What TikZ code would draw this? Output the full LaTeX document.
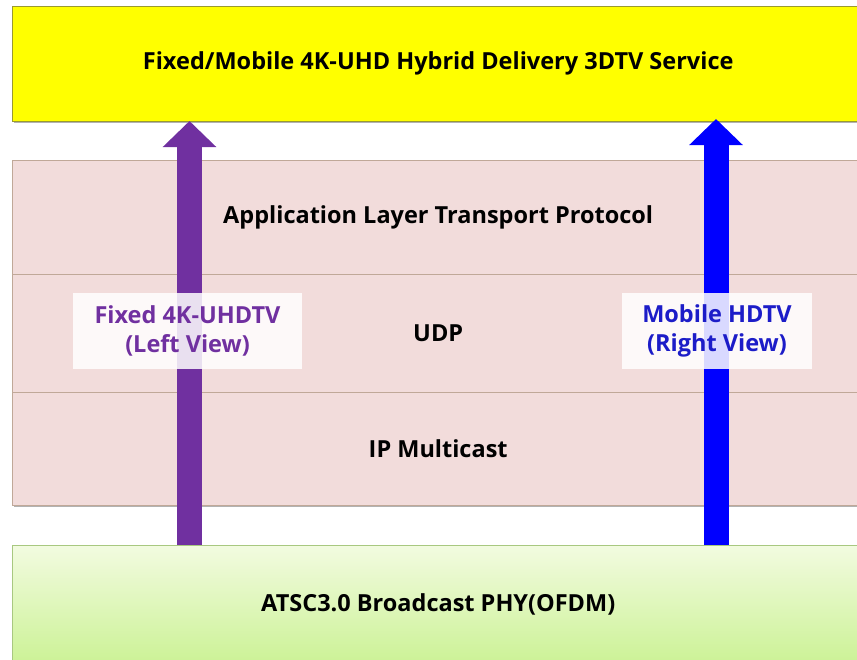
\documentclass[tikz,border=0pt]{standalone}
\usepackage{fontspec}
\setmainfont{Open Sans}
\usetikzlibrary{arrows.meta,shadows}

\definecolor{svcyellow}{HTML}{FFFF00}
\definecolor{svcborder}{HTML}{9A9A30}
\definecolor{layerpink}{HTML}{F2DCDB}
\definecolor{layerborder}{HTML}{C0A898}
\definecolor{phytop}{HTML}{F2FBE0}
\definecolor{phybottom}{HTML}{CCF296}
\definecolor{phyborder}{HTML}{A8C880}
\definecolor{leftview}{HTML}{7030A0}
\definecolor{rightview}{HTML}{0000FF}
\definecolor{righttext}{HTML}{1C1CC8}

\begin{document}
\begin{tikzpicture}[x=1pt,y=-1pt,
    every node/.style={font=\bfseries\fontsize{23.5}{28}\selectfont},
    block/.style={anchor=north west, inner sep=0pt, minimum width=852pt,
      drop shadow={shadow xshift=1.5pt, shadow yshift=-2pt, opacity=0.3, fill=black}},
    layer/.style={block, draw=layerborder, fill=layerpink},
    viewlabel/.style={fill=white, fill opacity=0.85, text opacity=1, inner sep=0pt,
      minimum height=76pt, align=center, font=\bfseries\fontsize{23.5}{29}\selectfont},
    viewarrow/.style={line width=25pt, -{Triangle[width=52pt,length=26pt]}}]

  \useasboundingbox (0,0) rectangle (857,659);

  % service on top
  \node[block, draw=svcborder, fill=svcyellow, minimum height=115pt] (svc) at (12,6)
    {Fixed/Mobile 4K-UHD Hybrid Delivery 3DTV Service};

  % protocol layers
  \node[layer, minimum height=114pt] (alp) at (12,160) {Application Layer Transport Protocol};
  \node[layer, minimum height=118pt] (udp) at (12,274) {UDP};
  \node[layer, minimum height=113pt] (ip) at (12,392) {IP Multicast};

  % physical layer
  \node[block, draw=phyborder, top color=phytop, bottom color=phybottom,
    minimum height=118pt] (phy) at (12,545) {ATSC3.0 Broadcast PHY(OFDM)};

  % the two views
  \coordinate (lbot) at (189.5,545);
  \coordinate (ltop) at (189.5,121);
  \coordinate (rbot) at (716,545);
  \coordinate (rtop) at (716,119);
  \draw[viewarrow, leftview] (lbot) -- (ltop);
  \draw[viewarrow, rightview] (rbot) -- (rtop);

  \node[viewlabel, text=leftview, minimum width=229pt] (lview) at (187.5,331)
    {Fixed\ 4K-UHDTV\\(Left View)};
  \node[viewlabel, text=righttext, minimum width=190pt] (rview) at (717,331)
    {Mobile\ HDTV\\(Right View)};
\end{tikzpicture}
\end{document}
